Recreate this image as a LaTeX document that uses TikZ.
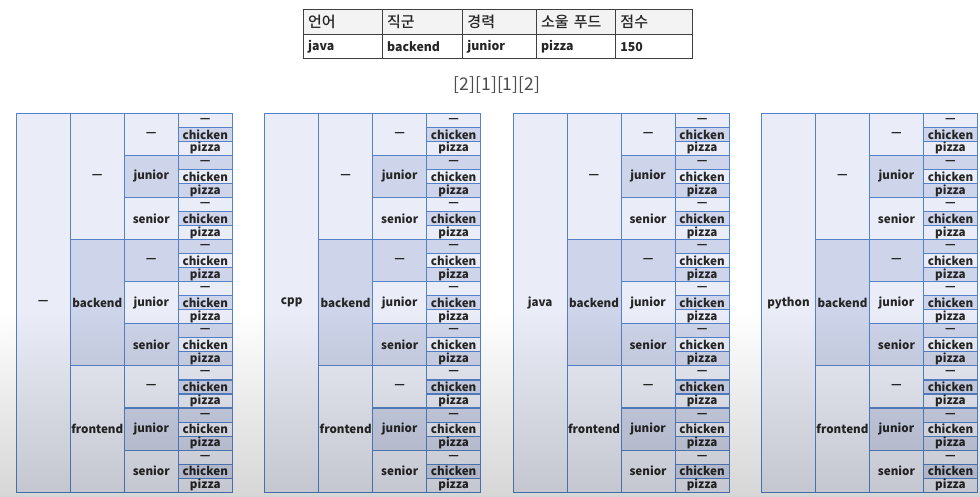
\documentclass[tikz,border=0pt]{standalone}
\usepackage{fontspec}
\setmainfont{Noto Sans CJK KR}
\newfontfamily\headfont{Noto Sans CJK KR Medium}
\usetikzlibrary{fadings}
\definecolor{cellline}{RGB}{84,130,200}
\definecolor{celllight}{RGB}{234,237,247}
\definecolor{celldark}{RGB}{206,212,233}
\definecolor{headgray}{RGB}{243,243,243}
\tikzset{
  cell/.style={draw=cellline, line width=1.1pt, inner sep=0pt, minimum width=54pt,
    anchor=north west, text=black!85, font=\bfseries\fontsize{11.6}{12}\selectfont},
  cellfill0/.style={fill=celllight},
  cellfill1/.style={fill=celldark},
  tabcell/.style={draw=black!75, line width=0.9pt, inner xsep=5pt, inner ysep=0pt,
    anchor=north west, align=left, text=black!85},
}

\begin{document}
\begin{tikzpicture}[x=1pt,y=-1pt]
\useasboundingbox (0,0) rectangle (980,497);
% the record
\foreach \xa/\w/\head/\val [count=\i, evaluate=\w as \tw using \w-10] in
  {302.7/79/언어/java, 381.7/80.3/직군/backend, 462/73.7/경력/junior,
   535.7/79.3/소울 푸드/pizza, 615/77/점수/150} {
  \node[tabcell, fill=headgray, text width=\tw pt, minimum height=25pt,
    font=\headfont\fontsize{15}{16}\selectfont] (head\i) at (\xa,9) {\head};
  \node[tabcell, fill=white, text width=\tw pt, minimum height=24.3pt,
    font=\bfseries\fontsize{12.3}{13}\selectfont] (val\i) at (\xa,34) {\val};
}
\node[text=black!70, font=\fontsize{17.5}{18}\selectfont] (dims) at (497,85) {[2][1][1][2]};

% one block per language
\foreach \lang [count=\b from 0] in {—,cpp,java,python} {
  \pgfmathsetmacro\bx{15.7+248.4*\b}
  \node[cell, cellfill0, minimum height=379pt] (lang\b) at (\bx,112.7) {\lang};
  \foreach \role [count=\r from 0] in {—,backend,frontend} {
    \pgfmathsetmacro\ya{112.7+126.333*\r}
    \pgfmathtruncatemacro\pa{mod(\r,2)}
    \node[cell, cellfill\pa, minimum height=126.333pt] (role\b-\r) at (\bx+54,\ya) {\role};
    \foreach \career [count=\c from 0] in {—,junior,senior} {
      \pgfmathsetmacro\yb{\ya+42.111*\c}
      \pgfmathtruncatemacro\pb{mod(3*\r+\c,2)}
      \node[cell, cellfill\pb, minimum height=42.111pt] (career\b-\r-\c) at (\bx+108,\yb) {\career};
      \foreach \food [count=\f from 0] in {—,chicken,pizza} {
        \pgfmathsetmacro\yc{\yb+14.037*\f}
        \pgfmathtruncatemacro\pc{mod(9*\r+3*\c+\f,2)}
        \node[cell, cellfill\pc, minimum height=14.037pt] (food\b-\r-\c-\f) at (\bx+162,\yc) {\food};
      }
    }
  }
}

% screen shading at the bottom
\fill[black, opacity=0.16, path fading=north] (0,310) rectangle (980,497);
\end{tikzpicture}
\end{document}
